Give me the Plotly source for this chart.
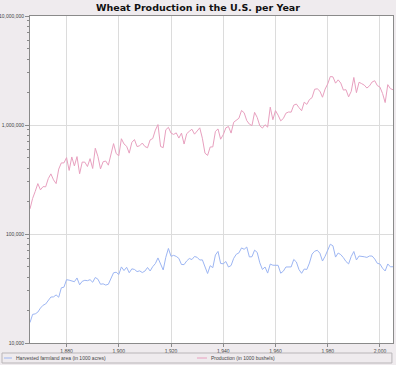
import plotly.graph_objects as go

years = list(range(1866, 2006))

area_1000_acres = [
    15.4, 18.3, 18.5, 19.2, 20.9, 22.2, 22.8, 24.4, 26.4, 26.5,
    27.6, 26.3, 32.1, 32.5, 38.1, 37.7, 37.1, 36.5, 39.5, 34.2,
    36.8, 37.6, 37.3, 38.1, 36.1, 39.9, 38.5, 34.6, 34.9, 34.0,
    34.6, 39.5, 44.1, 44.6, 42.5, 49.9, 46.2, 49.5, 44.1, 47.9,
    47.3, 45.2, 45.9, 44.3, 45.7, 49.3, 45.8, 50.2, 53.5, 60.3,
    53.5, 46.8, 61.1, 73.7, 62.4, 63.7, 62.3, 59.7, 52.5, 52.4,
    56.6, 59.6, 58.3, 62.2, 61.1, 57.7, 57.9, 49.4, 43.4, 51.2,
    49.1, 64.2, 69.2, 53.7, 53.3, 55.9, 49.8, 51.4, 59.8, 65.2,
    67.1, 74.5, 72.4, 75.9, 61.6, 61.9, 71.1, 67.8, 54.4, 47.3,
    49.8, 43.8, 53.0, 51.7, 51.9, 51.6, 43.7, 45.6, 49.8, 49.6,
    49.9, 58.4, 55.4, 47.1, 43.6, 47.7, 47.3, 54.1, 65.4, 69.5,
    70.9, 66.7, 56.5, 62.5, 71.1, 80.6, 77.9, 61.4, 66.9, 64.7,
    60.7, 55.9, 53.2, 62.2, 69.1, 57.8, 62.8, 62.7, 61.8, 61.0,
    62.8, 62.8, 59.0, 53.8, 53.1, 48.5, 45.8, 53.1, 50.0, 50.1,
]

production_1000_bushels = [
    170, 212, 246, 290, 254, 272, 271, 322, 356, 314,
    290, 394, 449, 449, 502, 383, 509, 421, 513, 357,
    457, 456, 416, 491, 399, 612, 515, 396, 460, 467,
    428, 530, 675, 547, 522, 748, 670, 638, 552, 693,
    735, 634, 645, 683, 635, 618, 730, 751, 897, 1009,
    635, 620, 904, 952, 843, 819, 847, 759, 842, 669,
    832, 875, 914, 824, 887, 942, 756, 552, 526, 628,
    630, 874, 920, 741, 815, 942, 969, 843, 1060, 1108,
    1153, 1359, 1295, 1098, 1019, 988, 1306, 1173, 984, 937,
    1005, 956, 1457, 1118, 1355, 1232, 1092, 1147, 1283, 1316,
    1312, 1522, 1557, 1443, 1352, 1619, 1546, 1711, 1782, 2127,
    2149, 2046, 1798, 2134, 2381, 2785, 2765, 2420, 2595, 2425,
    2091, 2108, 1812, 2037, 2730, 1981, 2467, 2396, 2321, 2183,
    2285, 2481, 2547, 2299, 2228, 1947, 1606, 2345, 2157, 2105,
]

area = [v * 1000 for v in area_1000_acres]
production = [v * 1000 for v in production_1000_bushels]

title_text = "Wheat Production in the U.S. per Year"
name_area = "Harvested farmland area (in 1000 acres)"
name_prod = "Production (in 1000 bushels)"

BG = "#efebee"
BLUE = "#9db6f3"
PINK = "#e8a0bf"
GRID = "#dcdcdc"
AXIS = "#8a8a8a"
SMALL = "Liberation Sans"

fig = go.Figure()
fig.add_trace(go.Scatter(x=years, y=area, mode="lines", name=name_area,
                         line=dict(color=BLUE, width=1)))
fig.add_trace(go.Scatter(x=years, y=production, mode="lines", name=name_prod,
                         line=dict(color=PINK, width=1)))

# legend box and entries (paper coordinates relative to plot area)
ly = -0.0459
shapes = [
    dict(type="rect", xref="paper", yref="paper",
         x0=-0.0771, x1=0.997, y0=-0.0306, y1=-0.0612,
         line=dict(color="#b9b5b8", width=1), fillcolor="rgba(0,0,0,0)"),
    dict(type="line", xref="paper", yref="paper", x0=-0.0716, x1=-0.0496,
         y0=ly, y1=ly, line=dict(color=BLUE, width=1)),
    dict(type="line", xref="paper", yref="paper", x0=0.460, x1=0.4876,
         y0=ly, y1=ly, line=dict(color=PINK, width=1)),
]
annotations = [
    dict(text=name_area, xref="paper", yref="paper", x=-0.0441, y=ly,
         xanchor="left", yanchor="middle", showarrow=False,
         font=dict(family=SMALL, size=5, color="#444")),
    dict(text=name_prod, xref="paper", yref="paper", x=0.493, y=ly,
         xanchor="left", yanchor="middle", showarrow=False,
         font=dict(family=SMALL, size=5, color="#444")),
]

fig.update_layout(
    width=396, height=365,
    margin=dict(l=30, r=3, t=16, b=22, autoexpand=False),
    paper_bgcolor=BG, plot_bgcolor="white",
    font=dict(family=SMALL, size=5, color="#444"),
    title=dict(text=title_text, x=0.5, xanchor="center", y=0.988, yanchor="top",
               font=dict(family="DejaVu Sans", size=9.5, color="#111", weight="bold")),
    showlegend=False,
    shapes=shapes,
    annotations=annotations,
)

fig.update_xaxes(
    range=[1866, 2005], tickmode="linear", tick0=1880, dtick=20,
    tickformat=",d", showgrid=True, gridcolor=GRID, gridwidth=1,
    showline=True, linecolor=AXIS, linewidth=1, mirror=True,
    ticks="outside", ticklen=3, tickcolor=AXIS, zeroline=False,
    tickfont=dict(family=SMALL, size=5),
)
fig.update_yaxes(
    type="log", range=[4, 7], dtick=1, tickformat=",d",
    showgrid=True, gridcolor=GRID, gridwidth=1,
    showline=True, linecolor=AXIS, linewidth=1, mirror=True,
    ticks="outside", ticklen=4, tickcolor=AXIS, zeroline=False,
    tickfont=dict(family=SMALL, size=5),
    minor=dict(ticks="outside", ticklen=2, tickcolor=AXIS, showgrid=False, dtick="D1"),
)

fig.write_html(
    "out.html",
    config={"displayModeBar": False},
    post_script="document.body.style.margin='0px';document.body.style.overflow='hidden';",
)
